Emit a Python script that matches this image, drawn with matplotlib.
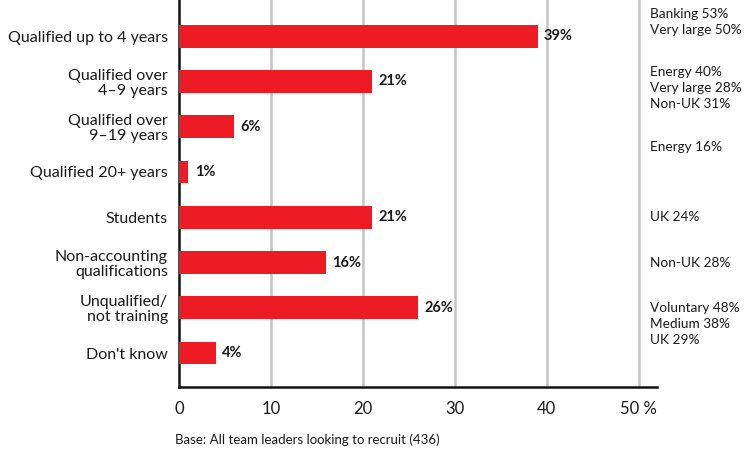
import matplotlib
matplotlib.use("Agg")
import matplotlib.pyplot as plt

plt.rcParams['font.family'] = ['Lato', 'DejaVu Sans']

categories = [
    "Qualified up to 4 years",
    "Qualified over\n4–9 years",
    "Qualified over\n9–19 years",
    "Qualified 20+ years",
    "Students",
    "Non-accounting\nqualifications",
    "Unqualified/\nnot training",
    "Don't know",
]
values = [39, 21, 6, 1, 21, 16, 26, 4]

# Sub-group highlights shown beside each bar: (y position in bar units, text)
notes = [
    (-0.32, "Banking 53%\nVery large 50%"),
    (1.15, "Energy 40%\nVery large 28%\nNon-UK 31%"),
    (2.45, "Energy 16%"),
    (4.0, "UK 24%"),
    (5.0, "Non-UK 28%"),
    (6.36, "Voluntary 48%\nMedium 38%\nUK 29%"),
]

ticks = [0, 10, 20, 30, 40, 50]
tick_labels = ["0", "10", "20", "30", "40", "50 %"]

red = "#ED1C24"

fig = plt.figure(figsize=(7.56, 4.55), dpi=100)
ax = fig.add_axes([179 / 756, 1 - 387 / 455, (657 - 179) / 756, 387 / 455])

ypos = list(range(len(categories)))
ax.barh(ypos, values, height=0.5, color=red, zorder=3)

for y, v in zip(ypos, values):
    ax.text(v + 0.7, y, f"{v}%", va="center", ha="left",
            fontsize=10.5, fontweight="bold", color="#1a1a1a")

ax.set_xlim(0, 52)
ax.set_ylim(7.75, -0.8)

ax.set_yticks(ypos)
ax.set_yticklabels(categories, fontsize=11.5, color="#1a1a1a", ha="right",
                   multialignment="right", linespacing=1.05)
ax.set_xticks(ticks)
ax.set_xticklabels(tick_labels, fontsize=12, color="#1a1a1a")
ax.tick_params(axis="both", length=0)
ax.tick_params(axis="y", pad=8)
ax.tick_params(axis="x", pad=10)

for t in ticks[1:]:
    ax.axvline(t, color="#c4c4c4", lw=1.8, zorder=1)

for side in ("top", "right"):
    ax.spines[side].set_visible(False)
ax.spines["left"].set_linewidth(1.8)
ax.spines["bottom"].set_linewidth(1.8)
ax.spines["left"].set_color("#111111")
ax.spines["bottom"].set_color("#111111")

for y, txt in notes:
    ax.text(51.2, y, txt, va="center", ha="left", fontsize=9.8,
            color="#1a1a1a", linespacing=1.4, clip_on=False)

fig.text(175 / 756, 1 - 440 / 455, "Base: All team leaders looking to recruit (436)",
         fontsize=9.5, color="#1a1a1a", va="center", ha="left")

fig.savefig("out.png", dpi=100)
